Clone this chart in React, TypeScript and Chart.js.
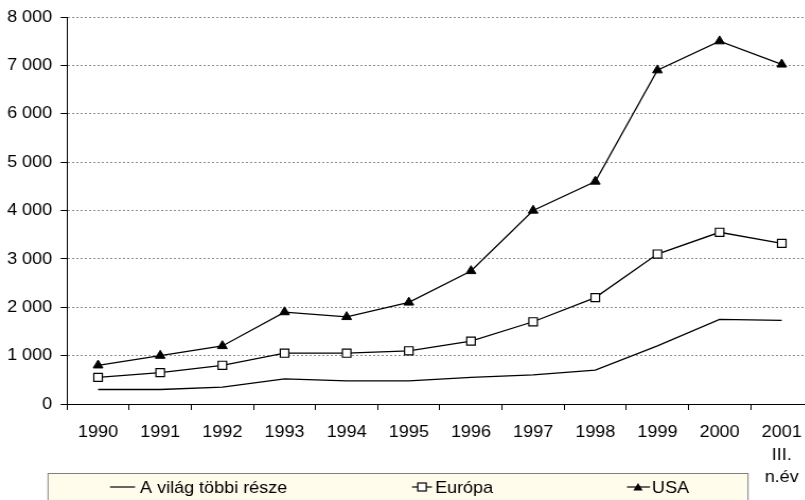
import React, { useEffect, useRef } from 'react';
import { Chart, registerables } from 'chart.js';

Chart.register(...registerables);

// ---- data ----
const years: (string | string[])[] = [
  '1990', '1991', '1992', '1993', '1994', '1995',
  '1996', '1997', '1998', '1999', '2000', ['2001', 'III.', 'n.év'],
];
const restOfWorld = [300, 300, 350, 520, 480, 480, 550, 600, 700, 1200, 1750, 1730];
const europe = [550, 650, 800, 1050, 1050, 1100, 1300, 1700, 2200, 3100, 3550, 3320];
const usa = [800, 1000, 1200, 1900, 1800, 2100, 2750, 4000, 4600, 6900, 7500, 7020];
const seriesNames = ['A világ többi része', 'Európa', 'USA'];
const yMin = 0;
const yMax = 8000;
const yStep = 1000;

// ---- layout helpers ----
const SX = 1.06; // horizontal stretch of the original picture
const CW = 780;
const CH = 500;
const FONT = '"Liberation Sans", Arial, sans-serif';

const fmt = (v: number) => {
  const s = String(Math.round(v));
  return s.replace(/\B(?=(\d{3})+(?!\d))/g, ' ');
};

const boxLegend = {
  id: 'boxLegend',
  afterDraw(chart: any) {
    const ctx = chart.ctx as CanvasRenderingContext2D;
    ctx.save();
    // box
    ctx.fillStyle = '#FFFCEB';
    ctx.strokeStyle = '#7f7f7f';
    ctx.lineWidth = 1;
    ctx.fillRect(45.3, 473.5, 660.4, 40);
    ctx.strokeRect(45.3, 473.5, 660.4, 40);

    const ly = 487;
    ctx.strokeStyle = '#000';
    ctx.lineWidth = 1.2;
    // item 1: plain line
    ctx.beginPath();
    ctx.moveTo(103.8, ly);
    ctx.lineTo(127.4, ly);
    ctx.stroke();
    // item 2: line + square
    ctx.beginPath();
    ctx.moveTo(388.7, ly);
    ctx.lineTo(407.5, ly);
    ctx.stroke();
    ctx.fillStyle = '#fff';
    ctx.fillRect(394.1, ly - 4, 8, 8);
    ctx.strokeRect(394.1, ly - 4, 8, 8);
    // item 3: line + triangle
    ctx.beginPath();
    ctx.moveTo(591.5, ly);
    ctx.lineTo(613.2, ly);
    ctx.stroke();
    ctx.fillStyle = '#000';
    ctx.beginPath();
    ctx.moveTo(601.9, ly - 4);
    ctx.lineTo(606.3, ly + 3.4);
    ctx.lineTo(597.5, ly + 3.4);
    ctx.closePath();
    ctx.fill();

    // texts
    ctx.fillStyle = '#000';
    ctx.font = `17px ${FONT}`;
    ctx.textBaseline = 'alphabetic';
    ctx.textAlign = 'left';
    ctx.fillText(seriesNames[0], 132.1, 493);
    ctx.fillText(seriesNames[1], 410.4, 493);
    ctx.fillText(seriesNames[2], 615.1, 493);
    ctx.restore();
  },
};

export default function App() {
  const ref = useRef<HTMLCanvasElement | null>(null);

  useEffect(() => {
    if (!ref.current) return;
    Chart.defaults.font.family = FONT;
    Chart.defaults.color = '#000';
    const chart = new Chart(ref.current, {
      type: 'line',
      data: {
        labels: years as any,
        datasets: [
          {
            label: seriesNames[0],
            data: restOfWorld,
            borderColor: '#000',
            borderWidth: 1.3,
            pointRadius: 0,
            tension: 0,
          },
          {
            label: seriesNames[1],
            data: europe,
            borderColor: '#000',
            borderWidth: 1.3,
            pointStyle: 'rect',
            pointRadius: 5.7,
            pointBackgroundColor: '#fff',
            pointBorderColor: '#000',
            pointBorderWidth: 1.2,
            tension: 0,
          },
          {
            label: seriesNames[2],
            data: usa,
            borderColor: '#000',
            borderWidth: 1.3,
            pointStyle: 'triangle',
            pointRadius: 5.3,
            pointBackgroundColor: '#000',
            pointBorderColor: '#000',
            pointBorderWidth: 1,
            tension: 0,
          },
        ],
      },
      options: {
        animation: false,
        responsive: false,
        devicePixelRatio: 1,
        layout: { padding: { top: 17, left: 0, right: CW - 766.8, bottom: 0 } },
        plugins: {
          legend: { display: false },
          tooltip: { enabled: false },
        },
        scales: {
          x: {
            type: 'category',
            offset: true,
            grid: {
              display: true,
              drawOnChartArea: false,
              offset: true,
              tickLength: 6,
              tickColor: '#000',
              color: '#000',
            },
            border: { display: true, color: '#000', width: 1 },
            ticks: {
              autoSkip: false,
              maxRotation: 0,
              minRotation: 0,
              padding: 11.5,
              color: '#000',
              font: { size: 17, family: FONT, lineHeight: 1.32 },
            },
            afterFit: (s: any) => {
              s.height = CH - 404;
              s.paddingLeft = 0;
              s.paddingRight = 0;
            },
          },
          y: {
            min: yMin,
            max: yMax,
            grid: {
              color: '#8c8c8c',
              tickColor: '#000',
              tickLength: 6,
              lineWidth: 1,
            },
            border: { display: true, color: '#000', width: 1, dash: [2, 2] },
            ticks: {
              stepSize: yStep,
              padding: 8,
              color: '#000',
              font: { size: 17, family: FONT },
              callback: (v: any) => fmt(Number(v)),
            },
            afterFit: (s: any) => {
              s.width = 63.2;
              s.paddingTop = 0;
              s.paddingBottom = 0;
            },
          },
        },
      },
      plugins: [boxLegend],
    });
    return () => chart.destroy();
  }, []);

  return (
    <div
      style={{
        position: 'fixed',
        left: 0,
        top: 0,
        width: 805,
        height: 500,
        overflow: 'hidden',
        background: '#fff',
      }}
    >
      <div
        style={{
          width: CW,
          height: CH,
          transform: `scaleX(${SX})`,
          transformOrigin: '0 0',
        }}
      >
        <canvas ref={ref} width={CW} height={CH} style={{ display: 'block', width: CW, height: CH }} />
      </div>
    </div>
  );
}
